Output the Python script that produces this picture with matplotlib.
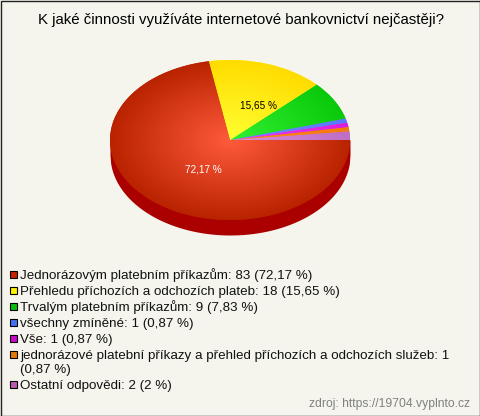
"""Pie chart of internet banking usage, with a fake 3D look."""

import matplotlib
matplotlib.use("Agg")
import matplotlib.pyplot as plt
import numpy as np
from matplotlib.patches import Rectangle

plt.rcParams["font.family"] = ["Liberation Sans", "DejaVu Sans"]

TITLE = "K jaké činnosti využíváte internetové bankovnictví nejčastěji?"
SOURCE = "zdroj: https://19704.vyplnto.cz"

# legend order, from the biggest answer down
labels = [
    "Jednorázovým platebním příkazům",
    "Přehledu příchozích a odchozích plateb",
    "Trvalým platebním příkazům",
    "všechny zmíněné",
    "Vše",
    "jednorázové platební příkazy a přehled příchozích a odchozích služeb",
    "Ostatní odpovědi",
]
counts = [83, 18, 9, 1, 1, 1, 2]
percents = ["72,17", "15,65", "7,83", "0,87", "0,87", "0,87", "2"]

swatch_colors = ["#c81e00", "#fff000", "#0abe0a", "#466ef0", "#c80ac8", "#e6780a", "#be5ab4"]
inner_colors = ["#ff5a3c", "#ffff32", "#32f032", "#6e8cff", "#f03cf0", "#ff8c1e", "#dc8cdc"]
outer_colors = ["#b92300", "#ffdc00", "#0ac80a", "#5a78ff", "#dc1edc", "#f5780a", "#be6ec3"]

BG = "#f5f5ee"
W, H = 480, 416
CX, CY, RX, RY, DEPTH = 230, 140, 120, 80, 15
LEGEND_FONT = 9.65


def hex2rgb(c):
    return np.array(matplotlib.colors.to_rgb(c))


fig = plt.figure(figsize=(W / 100, H / 100), dpi=100, facecolor=BG)

# overlay in pixel coordinates for all the text and legend squares
page = fig.add_axes([0, 0, 1, 1], zorder=3)
page.set_xlim(0, W)
page.set_ylim(H, 0)
page.axis("off")
page.patch.set_alpha(0)

# pie axes: unit circle squashed to the ellipse by the axes box
pie_ax = fig.add_axes([(CX - RX) / W, 1 - (CY + RY + DEPTH) / H,
                       2 * RX / W, (2 * RY + DEPTH) / H], zorder=2)
pie_ax.patch.set_alpha(0)

# the slices run counter clockwise from 3 o'clock, smallest answers first
order = [6, 5, 4, 3, 2, 1, 0]
pie_values = [counts[i] for i in order]
depth_u = DEPTH / RY

# side wall
xs = np.linspace(-1, 1, 400)
pie_ax.fill_between(xs, -np.sqrt(1 - xs ** 2) - depth_u, np.zeros_like(xs),
                    color="#aa0000", lw=0, zorder=1)

wedges, _ = pie_ax.pie(pie_values, startangle=0, counterclock=True, radius=1,
                       colors=[swatch_colors[i] for i in order],
                       wedgeprops={"linewidth": 0, "zorder": 2})

# radial shading, one image per slice clipped to its wedge
gy, gx = np.mgrid[1:-1:300j, -1:1:300j]
rr = np.clip(np.hypot(gx, gy), 0, 1)[..., None]
for w, i in zip(wedges, order):
    shade = hex2rgb(inner_colors[i]) * (1 - rr) + hex2rgb(outer_colors[i]) * rr
    im = pie_ax.imshow(shade, extent=(-1, 1, -1, 1), zorder=3,
                       aspect="auto", interpolation="bilinear")
    im.set_clip_path(w)

pie_ax.set_aspect("auto")
pie_ax.set_xlim(-1, 1)
pie_ax.set_ylim(-1 - depth_u, 1)
pie_ax.axis("off")

page.text(240.5, 20, TITLE, ha="center", va="center", fontsize=10.8, color="black")
page.text(203, 170, percents[0] + " %", ha="center", va="center", fontsize=7.2, color="white")
page.text(258, 105, percents[1] + " %", ha="center", va="center", fontsize=7.2, color="black")

# legend
legend_y = [274, 290, 306, 322, 338, 354, 384]
for i, y in enumerate(legend_y):
    page.add_patch(Rectangle((9.5, y - 3.5), 7.5, 7.5, facecolor=swatch_colors[i],
                             edgecolor="black", lw=0.8))
    if i == 5:
        page.text(20, y + 4.5, f"{labels[i]}: {counts[i]}", ha="left", va="baseline",
                  fontsize=LEGEND_FONT, color="#111111")
        page.text(20, y + 18.5, f"({percents[i]} %)", ha="left", va="baseline",
                  fontsize=LEGEND_FONT, color="#111111")
    else:
        page.text(20, y + 4.5, f"{labels[i]}: {counts[i]} ({percents[i]} %)", ha="left",
                  va="baseline", fontsize=LEGEND_FONT, color="#111111")

page.text(470, 404, SOURCE, ha="right", va="center", fontsize=8.75, color="#808080")

# thin frame around the picture
page.add_patch(Rectangle((0.5, 0.5), W - 1, H - 1, fill=False, edgecolor="#222222", lw=1))

fig.savefig("out.png", dpi=100, facecolor=BG)
